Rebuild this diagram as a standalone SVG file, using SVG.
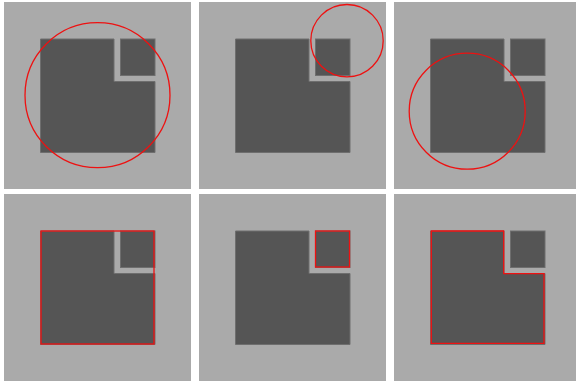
<svg xmlns="http://www.w3.org/2000/svg" xmlns:xlink="http://www.w3.org/1999/xlink" width="576" height="383" viewBox="0 0 576 383">
<style>
.bg{fill:#aaaaaa}
.dk{fill:#555555;stroke:#6e6e6e;stroke-width:1}
.hl{fill:none;stroke:#ee1111;stroke-width:1.3}
</style>
<defs>
<g id="panel">
<rect class="bg" x="0" y="0" width="187" height="187"/>
<path class="dk" d="M36.5 37 H110 V79.5 H151 V150.5 H36.5 Z"/>
<rect class="dk" x="116.5" y="37" width="34.5" height="36.5"/>
</g>
</defs>
<rect x="0" y="0" width="576" height="383" fill="#ffffff"/>
<g id="p1" transform="translate(4,2)"><use xlink:href="#panel"/></g>
<g id="p2" transform="translate(199,2)"><use xlink:href="#panel"/></g>
<g id="p3" transform="translate(394,2)"><use xlink:href="#panel"/></g>
<g id="p4" transform="translate(4,194)"><use xlink:href="#panel"/></g>
<g id="p5" transform="translate(199,194)"><use xlink:href="#panel"/></g>
<g id="p6" transform="translate(394,194)"><use xlink:href="#panel"/></g>
<g id="highlights">
<circle class="hl" cx="97.5" cy="95.2" r="72.5"/>
<circle class="hl" cx="347" cy="40.7" r="36.2"/>
<circle class="hl" cx="467.2" cy="111.2" r="58"/>
<rect class="hl" x="41" y="231" width="113" height="113"/>
<rect class="hl" x="315.5" y="231" width="34" height="36"/>
<path class="hl" d="M431.3 231 H503.7 V273.7 H544 V343.3 H431.3 Z"/>
</g>
</svg>
